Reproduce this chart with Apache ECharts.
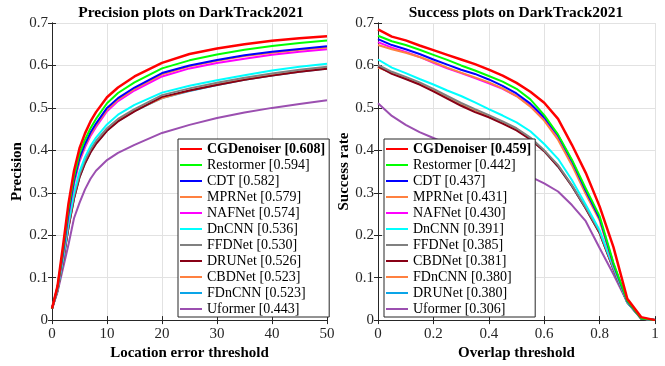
<!DOCTYPE html>
<html><head><meta charset="utf-8">
<script src="https://cdn.jsdelivr.net/npm/echarts@6/dist/echarts.min.js"></script>
<style>html,body{margin:0;padding:0;background:#fff}#c{width:665px;height:366px}</style>
</head><body><div id="c"></div>
<script>
// ---------- Precision plot data ----------
const precThresholds = [0,1,2,3,4,5,6,7,8,10,12,15,20,25,30,35,40,45,50];
const precLabels = ['CGDenoiser [0.608]','Restormer [0.594]','CDT [0.582]','MPRNet [0.579]','NAFNet [0.574]','DnCNN [0.536]','FFDNet [0.530]','DRUNet [0.526]','CBDNet [0.523]','FDnCNN [0.523]','Uformer [0.443]'];
const precCGDenoiser = [0.027,0.080,0.175,0.275,0.352,0.405,0.440,0.468,0.490,0.525,0.548,0.574,0.606,0.627,0.640,0.650,0.658,0.664,0.669];
const precRestormer  = [0.027,0.078,0.165,0.262,0.338,0.392,0.425,0.452,0.474,0.511,0.535,0.560,0.593,0.612,0.626,0.637,0.646,0.653,0.659];
const precCDT        = [0.027,0.077,0.158,0.252,0.328,0.382,0.415,0.442,0.463,0.500,0.523,0.548,0.582,0.600,0.613,0.624,0.632,0.639,0.645];
const precMPRNet     = [0.027,0.077,0.156,0.250,0.325,0.378,0.411,0.438,0.459,0.496,0.520,0.545,0.579,0.598,0.611,0.622,0.630,0.637,0.642];
const precNAFNet     = [0.027,0.076,0.154,0.247,0.322,0.374,0.407,0.434,0.455,0.492,0.516,0.541,0.574,0.593,0.606,0.616,0.625,0.632,0.638];
const precDnCNN      = [0.027,0.072,0.145,0.230,0.300,0.350,0.384,0.410,0.430,0.461,0.484,0.507,0.536,0.552,0.565,0.577,0.588,0.597,0.604];
const precFFDNet     = [0.027,0.071,0.141,0.223,0.292,0.342,0.376,0.402,0.422,0.452,0.474,0.497,0.530,0.546,0.559,0.571,0.581,0.590,0.597];
const precDRUNet     = [0.027,0.070,0.138,0.218,0.286,0.336,0.369,0.395,0.415,0.446,0.468,0.492,0.526,0.541,0.554,0.566,0.576,0.585,0.592];
const precCBDNet     = [0.027,0.070,0.139,0.220,0.289,0.339,0.372,0.398,0.418,0.448,0.470,0.494,0.523,0.541,0.555,0.567,0.577,0.586,0.594];
const precFDnCNN     = [0.027,0.070,0.138,0.219,0.287,0.337,0.370,0.396,0.416,0.447,0.469,0.493,0.523,0.540,0.554,0.566,0.576,0.585,0.593];
const precUformer    = [0.027,0.066,0.122,0.178,0.240,0.276,0.308,0.333,0.352,0.377,0.394,0.413,0.441,0.460,0.476,0.489,0.500,0.509,0.518];

// ---------- Success plot data ----------
const succThresholds = [0,0.05,0.1,0.15,0.2,0.25,0.3,0.35,0.4,0.45,0.5,0.55,0.6,0.65,0.7,0.75,0.8,0.85,0.9,0.95,1];
const succLabels = ['CGDenoiser [0.459]','Restormer [0.442]','CDT [0.437]','MPRNet [0.431]','NAFNet [0.430]','DnCNN [0.391]','FFDNet [0.385]','CBDNet [0.381]','FDnCNN [0.380]','DRUNet [0.380]','Uformer [0.306]'];
const succCGDenoiser = [0.685,0.668,0.659,0.647,0.636,0.625,0.614,0.603,0.590,0.576,0.559,0.538,0.512,0.474,0.413,0.347,0.268,0.172,0.050,0.007,0];
const succRestormer  = [0.670,0.657,0.648,0.637,0.625,0.613,0.600,0.588,0.575,0.562,0.545,0.520,0.483,0.437,0.378,0.310,0.245,0.135,0.045,0.004,0];
const succCDT        = [0.662,0.648,0.638,0.627,0.614,0.602,0.590,0.580,0.567,0.552,0.534,0.510,0.478,0.435,0.375,0.305,0.240,0.132,0.044,0.004,0];
const succMPRNet     = [0.648,0.638,0.630,0.620,0.608,0.595,0.583,0.572,0.560,0.546,0.528,0.503,0.470,0.425,0.365,0.297,0.235,0.130,0.044,0.004,0];
const succNAFNet     = [0.655,0.642,0.632,0.620,0.606,0.593,0.582,0.570,0.558,0.545,0.528,0.505,0.474,0.432,0.372,0.302,0.238,0.130,0.044,0.004,0];
const succDnCNN      = [0.614,0.595,0.582,0.568,0.555,0.541,0.528,0.513,0.497,0.482,0.466,0.445,0.415,0.380,0.330,0.272,0.212,0.125,0.042,0.004,0];
const succFFDNet     = [0.601,0.585,0.573,0.560,0.545,0.528,0.512,0.497,0.483,0.468,0.452,0.430,0.400,0.365,0.318,0.265,0.208,0.122,0.042,0.004,0];
const succCBDNet     = [0.598,0.580,0.568,0.555,0.539,0.522,0.505,0.490,0.478,0.463,0.447,0.426,0.398,0.362,0.316,0.263,0.205,0.120,0.042,0.004,0];
const succFDnCNN     = [0.595,0.583,0.570,0.557,0.542,0.526,0.510,0.495,0.481,0.466,0.450,0.428,0.399,0.363,0.317,0.264,0.206,0.121,0.042,0.004,0];
const succDRUNet     = [0.597,0.582,0.569,0.556,0.541,0.525,0.509,0.494,0.480,0.465,0.449,0.427,0.398,0.362,0.316,0.263,0.205,0.120,0.042,0.004,0];
const succUformer    = [0.511,0.481,0.460,0.443,0.429,0.415,0.400,0.388,0.375,0.362,0.350,0.338,0.322,0.303,0.271,0.233,0.170,0.108,0.042,0.003,0];

const precSeriesData = [precCGDenoiser,precRestormer,precCDT,precMPRNet,precNAFNet,precDnCNN,precFFDNet,precDRUNet,precCBDNet,precFDnCNN,precUformer];
const succSeriesData = [succCGDenoiser,succRestormer,succCDT,succMPRNet,succNAFNet,succDnCNN,succFFDNet,succCBDNet,succFDnCNN,succDRUNet,succUformer];
const lineColors = ['#ff0000','#00ff00','#0000ff','#ff8040','#ff00ff','#00ffff','#808080','#880015','#ff8040','#0aa5e8','#9b4fb0'];

const FONT = 'Liberation Serif';
const AX = '#262626';

function mkSeries(labels, datas, xs, xi, yi) {
  const out = [];
  for (let i = labels.length - 1; i >= 0; i--) {
    out.push({
      type: 'line', name: labels[i], xAxisIndex: xi, yAxisIndex: yi,
      data: xs.map((x, k) => [x, datas[i][k]]),
      showSymbol: false, symbol: 'none', smooth: false,
      lineStyle: { color: lineColors[i], width: i === 0 ? 2.5 : 2, join: 'round' },
      itemStyle: { color: lineColors[i] },
      animation: false
    });
  }
  return out;
}
function mkLegend(labels, left) {
  return {
    orient: 'vertical', left: left, top: 139,
    data: labels.map((n, i) => i === 0 ? { name: n, textStyle: { fontWeight: 'bold' } } : { name: n }),
    icon: 'rect', itemWidth: 22, itemHeight: 2, itemGap: 0,
    padding: [2, 4, 0, 2],
    borderColor: AX, borderWidth: 1, backgroundColor: '#fff',
    selectedMode: false,
    textStyle: { fontFamily: FONT, fontSize: 14, color: '#000', lineHeight: 16 }
  };
}
function boxAxis(type, gi, pos, min, max, interval) {
  return {
    type: 'value', gridIndex: gi, position: pos, min: min, max: max, interval: interval,
    axisLine: { show: true, lineStyle: { color: AX, width: 1 } },
    axisTick: { show: true, inside: true, length: 4, lineStyle: { color: AX } },
    axisLabel: { show: false }, splitLine: { show: false }
  };
}
const labelStyle = { fontFamily: FONT, fontSize: 15, color: AX };
const nameStyle = { fontFamily: FONT, fontSize: 15, fontWeight: 'bold', color: '#000' };
const gridLine = { show: true, lineStyle: { color: '#e2e2e2', width: 1 } };
const titleStyle = { fontFamily: FONT, fontSize: 15.5, fontWeight: 'bold', color: '#000' };

const option = {
  animation: false,
  backgroundColor: '#fff',
  title: [
    { text: 'Precision plots on DarkTrack2021', left: 191, top: 5, textAlign: 'center', padding: 0, textStyle: titleStyle },
    { text: 'Success plots on DarkTrack2021', left: 516, top: 5, textAlign: 'center', padding: 0, textStyle: titleStyle }
  ],
  grid: [
    { left: 52, top: 23, width: 275, height: 300 },
    { left: 378, top: 23, width: 277, height: 300 }
  ],
  xAxis: [
    { type: 'value', gridIndex: 0, position: 'bottom', min: 0, max: 50, interval: 10,
      name: 'Location error threshold', nameLocation: 'middle', nameGap: 21, nameTextStyle: nameStyle,
      axisLine: { show: true, lineStyle: { color: AX } },
      axisTick: { show: true, inside: true, length: 4, lineStyle: { color: AX } },
      axisLabel: Object.assign({ margin: 6 }, labelStyle), splitLine: gridLine },
    boxAxis('x', 0, 'top', 0, 50, 10),
    { type: 'value', gridIndex: 1, position: 'bottom', min: 0, max: 1, interval: 0.2,
      name: 'Overlap threshold', nameLocation: 'middle', nameGap: 21, nameTextStyle: nameStyle,
      axisLine: { show: true, lineStyle: { color: AX } },
      axisTick: { show: true, inside: true, length: 4, lineStyle: { color: AX } },
      axisLabel: Object.assign({ margin: 6, formatter: v => (v === 0 ? '0' : v === 1 ? '1' : v.toFixed(1)) }, labelStyle),
      splitLine: gridLine },
    boxAxis('x', 1, 'top', 0, 1, 0.2)
  ],
  yAxis: [
    { type: 'value', gridIndex: 0, position: 'left', min: 0, max: 0.7, interval: 0.1,
      name: 'Precision', nameLocation: 'middle', nameGap: 27, nameTextStyle: nameStyle,
      axisLine: { show: true, lineStyle: { color: AX } },
      axisTick: { show: true, inside: true, length: 4, lineStyle: { color: AX } },
      axisLabel: Object.assign({ margin: 4, formatter: v => (v === 0 ? '0' : v.toFixed(1)) }, labelStyle),
      splitLine: gridLine },
    boxAxis('y', 0, 'right', 0, 0.7, 0.1),
    { type: 'value', gridIndex: 1, position: 'left', min: 0, max: 0.7, interval: 0.1,
      name: 'Success rate', nameLocation: 'middle', nameGap: 22, nameTextStyle: nameStyle,
      axisLine: { show: true, lineStyle: { color: AX } },
      axisTick: { show: true, inside: true, length: 4, lineStyle: { color: AX } },
      axisLabel: Object.assign({ margin: 4, formatter: v => (v === 0 ? '0' : v.toFixed(1)) }, labelStyle),
      splitLine: gridLine },
    boxAxis('y', 1, 'right', 0, 0.7, 0.1)
  ],
  legend: [mkLegend(precLabels, 178), mkLegend(succLabels, 384)],
  series: mkSeries(precLabels, precSeriesData, precThresholds, 0, 0)
    .concat(mkSeries(succLabels, succSeriesData, succThresholds, 2, 2))
};
const chart = echarts.init(document.getElementById('c'), null, { renderer: 'canvas' });
chart.setOption(option);
</script>
</body></html>
